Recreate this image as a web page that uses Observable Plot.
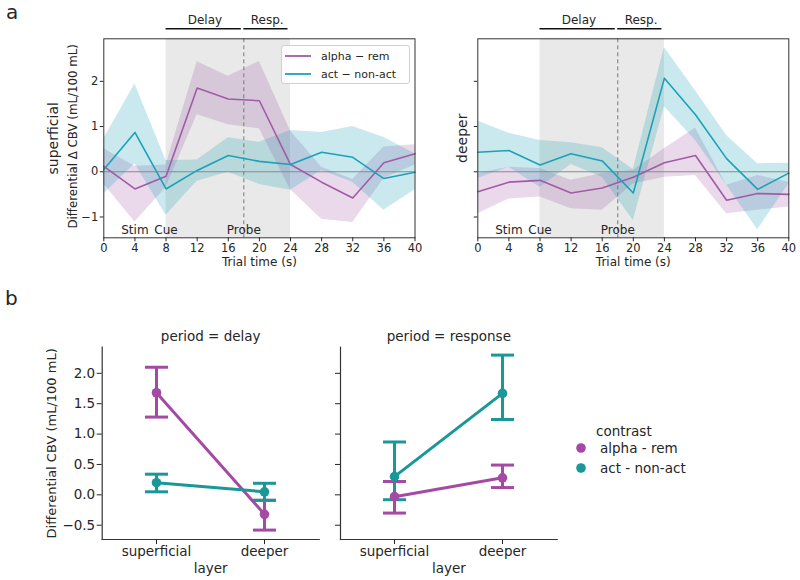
<!DOCTYPE html>
<html><head><meta charset="utf-8">
<script src="https://cdn.jsdelivr.net/npm/d3@7"></script>
<script src="https://cdn.jsdelivr.net/npm/@observablehq/plot@0.6"></script>
<style>
body{margin:0;background:#fff;font-family:"DejaVu Sans",sans-serif;color:#262626}
#root{position:relative;width:800px;height:580px;overflow:hidden;background:#fff}
</style></head><body><div id="root"></div>
<script>
// ---------- Panel a data ----------
const times = [0, 4, 8, 12, 16, 20, 24, 28, 32, 36, 40];
const contrastKeys = ["alpha - rem", "act - non-act"];
const contrastLabelsA = ["alpha \u2212 rem", "act \u2212 non-act"];

const supAlpha   = [0.12, -0.38, -0.10, 1.85, 1.61, 1.57, 0.16, -0.23, -0.58, 0.20, 0.40];
const supAlphaLo = [-0.27, -1.11, -0.35, 1.26, 1.04, 0.95, -0.40, -1.05, -1.12, -0.15, 0.15];
const supAlphaHi = [0.51, 0.12, 0.15, 2.43, 2.11, 2.44, 0.90, 0.10, -0.17, 0.55, 0.60];
const supAct     = [0.05, 0.87, -0.38, 0.03, 0.36, 0.23, 0.16, 0.43, 0.32, -0.15, -0.01];
const supActLo   = [-0.49, 0.18, -0.96, -0.21, -0.01, -0.28, -0.41, 0.03, -0.23, -0.85, -0.40];
const supActHi   = [0.73, 1.94, 0.25, 0.26, 0.75, 0.65, 0.91, 0.87, 1.00, 0.76, 0.40];

const deepAlpha   = [-0.44, -0.23, -0.19, -0.47, -0.36, -0.12, 0.20, 0.36, -0.63, -0.48, -0.50];
const deepAlphaLo = [-0.93, -0.60, -0.56, -0.82, -0.85, -0.27, -0.12, -0.08, -0.93, -0.85, -0.78];
const deepAlphaHi = [-0.04, 0.10, 0.07, -0.19, -0.04, 0.03, 0.51, 0.97, -0.30, -0.08, -0.23];
const deepAct     = [0.43, 0.47, 0.15, 0.40, 0.24, -0.47, 2.07, 1.26, 0.29, -0.39, -0.03];
const deepActLo   = [-0.15, 0.10, -0.34, 0.16, -0.12, -1.08, 1.44, 0.69, -0.30, -1.28, -0.27];
const deepActHi   = [1.12, 0.85, 0.69, 0.64, 0.53, 0.05, 2.75, 1.79, 0.80, 0.18, 0.19];

const epochNames = ["Delay", "Resp."];
const epochStart = [8, 18];
const epochEnd   = [18, 24];
const eventNames = ["Stim", "Cue", "Probe"];
const eventTimes = [4, 8, 18];
const probeTime = 18;
const xTicksA = [0, 4, 8, 12, 16, 20, 24, 28, 32, 36, 40];
const yTicksA = [-1, 0, 1, 2];
const yDomainA = [-1.46, 2.94];

// ---------- Panel b data ----------
const layers = ["superficial", "deeper"];
const periodKeys = ["delay", "response"];
const bAlphaDelay = [1.68, -0.32], bAlphaDelayLo = [1.28, -0.58], bAlphaDelayHi = [2.10, -0.09];
const bActDelay   = [0.20, 0.05],  bActDelayLo   = [0.05, -0.09], bActDelayHi   = [0.34, 0.19];
const bAlphaResp  = [-0.03, 0.28], bAlphaRespLo  = [-0.30, 0.12], bAlphaRespHi  = [0.22, 0.49];
const bActResp    = [0.30, 1.67],  bActRespLo    = [-0.08, 1.24], bActRespHi    = [0.87, 2.30];
const sigMark = "**";
const sigY = 1.93;
const yTicksB = [-0.5, 0, 0.5, 1.0, 1.5, 2.0];
const yDomainB = [-0.735, 2.43];

// ---------- colours ----------
const colA = ["#a15ba7", "#1aa2b6"];
const colB = ["#a44aa5", "#1a9797"];

// ---------- build tables ----------
function seriesRows(layer, arrs) {
  const out = [];
  arrs.forEach(([m, lo, hi], k) => {
    times.forEach((t, i) => out.push({layer, contrast: contrastKeys[k], t, mean: m[i], lo: lo[i], hi: hi[i]}));
  });
  return out;
}
const rowsSup = seriesRows("superficial", [[supAlpha, supAlphaLo, supAlphaHi], [supAct, supActLo, supActHi]]);
const rowsDeep = seriesRows("deeper", [[deepAlpha, deepAlphaLo, deepAlphaHi], [deepAct, deepActLo, deepActHi]]);
const epochs = epochNames.map((n, i) => ({name: n, start: epochStart[i], end: epochEnd[i]}));
const events = eventNames.map((n, i) => ({name: n, t: eventTimes[i]}));

function bRowsFor(period, sets) {
  const out = [];
  sets.forEach(([m, lo, hi], k) => layers.forEach((l, i) =>
    out.push({period, contrast: contrastKeys[k], layer: l, mean: m[i], lo: lo[i], hi: hi[i]})));
  return out;
}
const bDelay = bRowsFor("delay", [[bAlphaDelay, bAlphaDelayLo, bAlphaDelayHi], [bActDelay, bActDelayLo, bActDelayHi]]);
const bResp = bRowsFor("response", [[bAlphaResp, bAlphaRespLo, bAlphaRespHi], [bActResp, bActRespLo, bActRespHi]]);

const root = document.getElementById("root");
function place(el, left, top) {
  el.style.position = "absolute"; el.style.left = left + "px"; el.style.top = top + "px";
  root.appendChild(el);
}
const baseStyle = {fontFamily: "DejaVu Sans", color: "#262626", background: "transparent", overflow: "visible"};

// horizontal error-bar cap as a custom dot symbol (half-width = r)
const capSymbol = {draw(ctx, size) { const w = Math.sqrt(size / Math.PI); ctx.moveTo(-w, 0); ctx.lineTo(w, 0); }};

// ---------- panel a ----------
function panelA(rows, o) {
  return Plot.plot({
    width: o.width, height: 275,
    marginLeft: o.ml, marginRight: o.mr, marginTop: 38.3, marginBottom: 37.7,
    style: {...baseStyle, fontSize: "11px"},
    x: {domain: [0, 40]},
    y: {domain: yDomainA},
    color: {domain: contrastKeys, range: colA},
    marks: [
      Plot.rect(epochs, {x1: "start", x2: "end", fill: "#e8e9e8"}),
      Plot.areaY(rows, {x: "t", y1: "lo", y2: "hi", z: "contrast", fill: "contrast", fillOpacity: 0.23}),
      Plot.ruleY([0], {stroke: "#8a8a8a", strokeWidth: 1}),
      Plot.ruleX([probeTime], {stroke: "#777", strokeWidth: 1, strokeDasharray: "4,3"}),
      Plot.line(rows, {x: "t", y: "mean", z: "contrast", stroke: "contrast", strokeWidth: 1.6}),
      Plot.frame({stroke: "#333", strokeWidth: 1}),
      Plot.axisX({ticks: xTicksA, tickFormat: d3.format("d"), tickSize: 4, tickPadding: 2, label: null, fontSize: 11.5}),
      Plot.axisY({ticks: yTicksA, tickFormat: o.yLabels ? d3.format("d") : () => "", tickSize: 3.5, tickPadding: 2, label: null, fontSize: 11.5}),
      // epoch brackets above the frame
      Plot.ruleY(epochs, {x1: "start", x2: "end", y: yDomainA[1], dy: -10, stroke: "#111", strokeWidth: 1.6, insetLeft: 0, insetRight: 2.5}),
      Plot.text(epochs, {x: d => (d.start + d.end) / 2, y: yDomainA[1], text: "name", dy: -19, fontSize: 12}),
      // event labels at bottom
      Plot.text(events, {x: "t", y: yDomainA[0], text: "name", dy: -8, fontSize: 12}),
      Plot.text(["Trial time (s)"], {text: d => d, frameAnchor: "bottom", lineAnchor: "middle", dy: 24.5, fontSize: 12}),
      Plot.text([o.rowLabel], {text: d => d, frameAnchor: "left", textAnchor: "middle", lineAnchor: "middle", rotate: -90, dx: o.rowDx, fontSize: 14}),
      ...(o.yTitle ? [Plot.text([o.yTitle], {text: d => d, frameAnchor: "left", textAnchor: "middle", lineAnchor: "middle", rotate: -90, dx: -31, dy: -2, fontSize: 11.8})] : [])
    ]
  });
}
place(panelA(rowsSup, {width: 420, ml: 103.3, mr: 5.5, yLabels: true, rowLabel: "superficial", rowDx: -50,
  yTitle: "Differential \u0394 CBV (mL/100 mL)"}), 0, 0);
place(panelA(rowsDeep, {width: 380, ml: 57.3, mr: 11.7, yLabels: false, rowLabel: "deeper", rowDx: -15}), 420, 0);

// legend inside panel a (left)
(function () {
  const div = document.createElement("div");
  div.style.cssText = "width:127px;height:37px;border:1px solid #d0d0d0;border-radius:3px;background:rgba(255,255,255,0.85);font-size:11px;";
  div.innerHTML = contrastLabelsA.map((lab, i) =>
    `<div style="position:absolute;left:3px;top:${2 + i * 18}px;height:16px;display:flex;align-items:center;white-space:nowrap">
       <svg width="26" height="4"><line x1="0" x2="26" y1="2" y2="2" stroke="${colA[i]}" stroke-width="1.8"/></svg>
       <span style="margin-left:10px">${lab}</span></div>`).join("");
  place(div, 281, 45);
})();

// ---------- panel b ----------
function panelB(rows, o) {
  return Plot.plot({
    width: o.width, height: 260,
    marginLeft: o.ml, marginRight: o.mr, marginTop: 26.7, marginBottom: 41,
    style: {...baseStyle, fontSize: "13.5px"},
    x: {type: "point", domain: layers, padding: 0.5},
    y: {domain: yDomainB},
    color: {domain: contrastKeys, range: colB},
    marks: [
      Plot.frame({anchor: "left", stroke: "#333", strokeWidth: 1.2}),
      Plot.frame({anchor: "bottom", stroke: "#333", strokeWidth: 1.2}),
      Plot.axisX({tickSize: 5, tickPadding: 2, label: null, fontSize: 13.5}),
      Plot.axisY({ticks: yTicksB, tickFormat: o.yLabels ? d3.format(".1f") : () => "", tickSize: 5, tickPadding: 2, label: null, fontSize: 13.5}),
      Plot.ruleX(rows, {x: "layer", y1: "lo", y2: "hi", stroke: "contrast", strokeWidth: 3}),
      Plot.dot(rows, {x: "layer", y: "hi", symbol: capSymbol, r: 11.5, stroke: "contrast", fill: "none", strokeWidth: 3}),
      Plot.dot(rows, {x: "layer", y: "lo", symbol: capSymbol, r: 11.5, stroke: "contrast", fill: "none", strokeWidth: 3}),
      Plot.line(rows, {x: "layer", y: "mean", z: "contrast", stroke: "contrast", strokeWidth: 3}),
      Plot.dot(rows, {x: "layer", y: "mean", fill: "contrast", r: 4.8}),
      Plot.text([sigMark], {text: d => d, x: layers[0], y: sigY, dx: 44, fontSize: 15}),
      Plot.text([o.title], {text: d => d, frameAnchor: "top", lineAnchor: "middle", dy: -10.7, fontSize: 13.5}),
      Plot.text(["layer"], {text: d => d, frameAnchor: "bottom", lineAnchor: "middle", dy: 29, fontSize: 13.5}),
      ...(o.yTitle ? [Plot.text([o.yTitle], {text: d => d, frameAnchor: "left", textAnchor: "middle", lineAnchor: "middle", rotate: -90, dx: -50, fontSize: 13})] : [])
    ]
  });
}
place(panelB(bDelay, {width: 330, ml: 101.7, mr: 11.3, yLabels: true, title: "period = " + periodKeys[0],
  yTitle: "Differential CBV (mL/100 mL)"}), 0, 320);
place(panelB(bResp, {width: 240, ml: 10, mr: 13.3, yLabels: false, title: "period = " + periodKeys[1]}), 330, 320);

// legend for panel b
(function () {
  const div = document.createElement("div");
  div.style.cssText = "width:200px;height:70px;font-size:13.5px;";
  let html = `<div style="position:absolute;left:16px;top:0px;white-space:nowrap">contrast</div>`;
  contrastKeys.forEach((k, i) => {
    html += `<svg style="position:absolute;left:-9px;top:${15 + i * 19.6}px" width="20" height="20"><circle cx="10" cy="10" r="4.8" fill="${colB[i]}"/></svg>
      <div style="position:absolute;left:20px;top:${17 + i * 19.6}px;white-space:nowrap">${k}</div>`;
  });
  div.innerHTML = html;
  place(div, 580, 423);
})();

// panel letters
const la = document.createElement("div"); la.textContent = "a"; la.style.fontSize = "20px"; la.style.lineHeight = "24px"; place(la, 6, 0);
const lb = document.createElement("div"); lb.textContent = "b"; lb.style.fontSize = "20px"; lb.style.lineHeight = "24px"; place(lb, 5, 286);
</script></body></html>
